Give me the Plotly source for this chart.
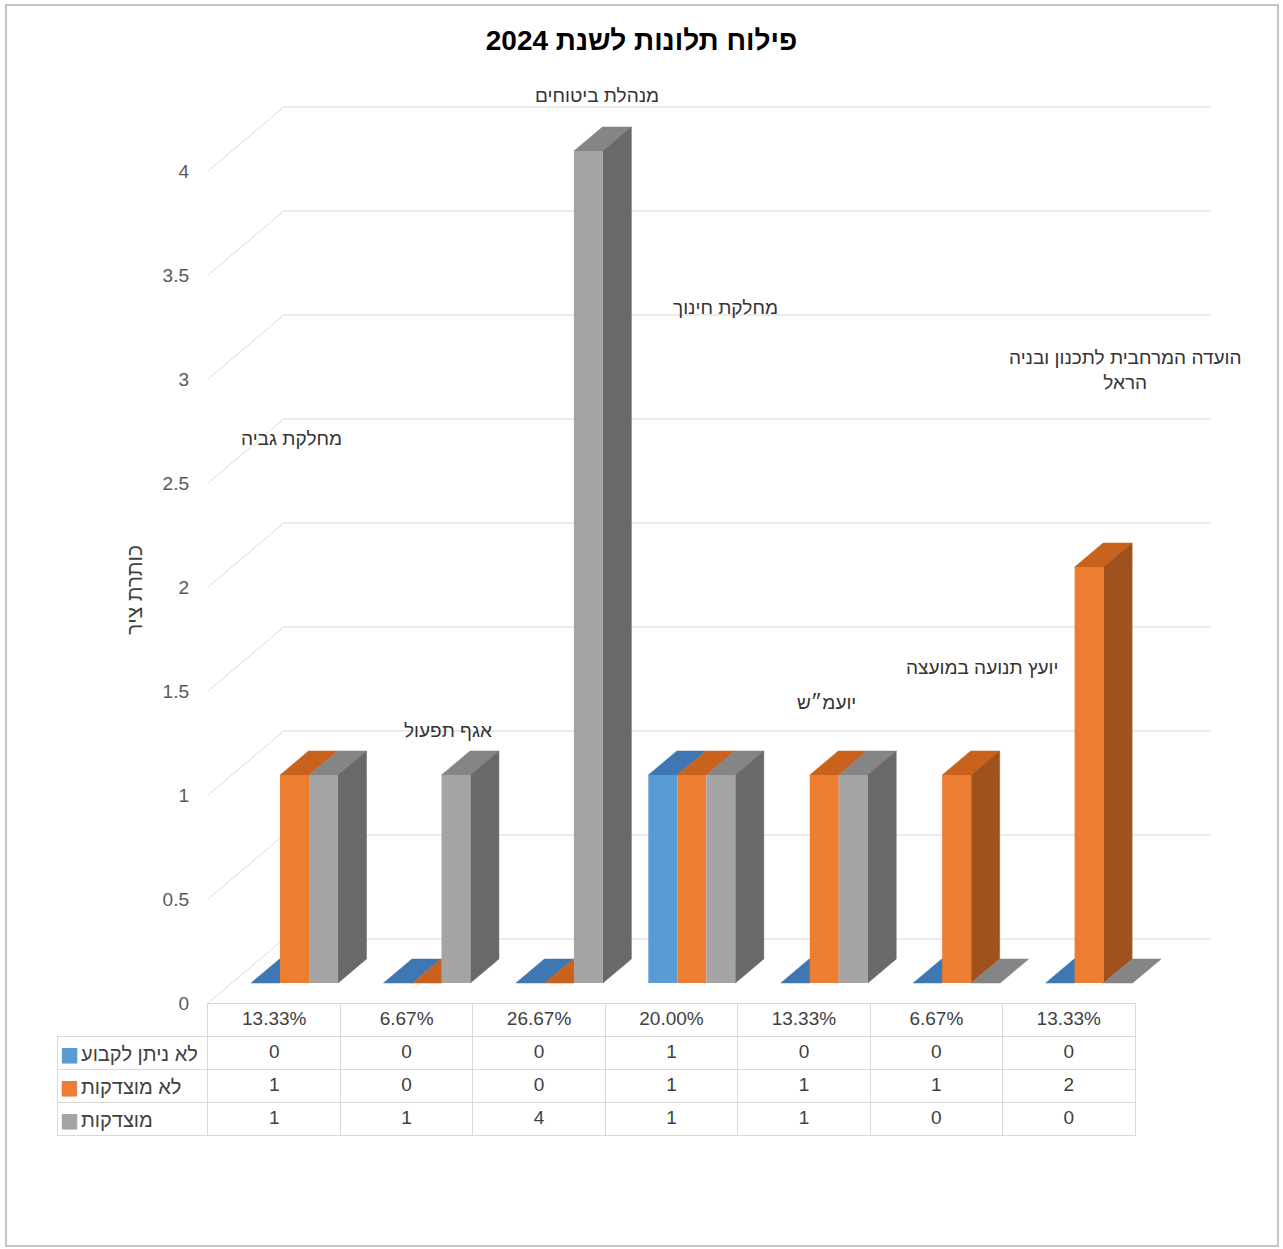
import plotly.graph_objects as go

# ---------------- data ----------------
categories = ["מחלקת גביה", "אגף תפעול", "מנהלת ביטוחים", "מחלקת חינוך",
              "יועמ״ש", "יועץ תנועה במועצה", "הועדה המרחבית לתכנון ובניה<br>הראל"]
share_labels = ["13.33%", "6.67%", "26.67%", "20.00%", "13.33%", "6.67%", "13.33%"]
series_names = ["לא ניתן לקבוע", "לא מוצדקות", "מוצדקות"]
undetermined = [0, 0, 0, 1, 0, 0, 0]
unjustified = [1, 0, 0, 1, 1, 1, 2]
justified = [1, 1, 4, 1, 1, 0, 0]
y_ticks = [0, 0.5, 1, 1.5, 2, 2.5, 3, 3.5, 4]
title_text = "פילוח תלונות לשנת 2024"
axis_title = "כותרת ציר"

# ---------------- layout / style (not data) ----------------
series_values = [undetermined, unjustified, justified]
front_colors = ["#5B9BD5", "#ED7D31", "#A5A5A5"]
top_colors = ["#3E77B2", "#C8621D", "#858585"]
side_colors = ["#2F5F8F", "#A0521C", "#696969"]
FONT = "Liberation Sans, Arial, sans-serif"

# category-name label positions (data units: category axis, value axis)
label_pos = [(0.634, 2.716), (1.812, 1.308), (2.937, 4.361), (3.904, 3.346),
             (4.667, 1.447), (5.845, 1.615), (6.924, 3.043)]

W = 0.219                 # bar width (category units)
START = 0.146             # group start within category cell
WALL_D = (0.574, 0.3077)  # depth of the 3D box
FRONT = (0.179, 0.096)    # offset of bar front faces from the front plane
BAR_D = (0.215, 0.1154)   # depth of a bar

FIG_W, FIG_H = 1283, 1249
X0_PX, PX_PER_CAT = 208, 132.43
Y0_PX, PX_PER_UNIT = 1003, 208
ROW_H = 33
XR = (0, 8)
YR = (0, 4.5)


def px_y(py):
    return (FIG_H - py) / FIG_H


x_dom = [X0_PX / FIG_W, (X0_PX + XR[1] * PX_PER_CAT) / FIG_W]
y_dom = [px_y(Y0_PX), px_y(Y0_PX - YR[1] * PX_PER_UNIT)]

fig = go.Figure()

# ---- top and side faces (pseudo 3D) ----
n = len(categories)
for i in range(n):
    for k in range(3):
        h = series_values[k][i]
        x0 = i + START + k * W + FRONT[0]
        x1 = x0 + W
        b = FRONT[1]
        t = b + h
        dx, dy = BAR_D
        fig.add_trace(go.Scatter(
            x=[x0, x1, x1 + dx, x0 + dx, x0], y=[t, t, t + dy, t + dy, t],
            fill="toself", fillcolor=top_colors[k], mode="lines",
            line=dict(color=top_colors[k], width=0.5), hoverinfo="skip",
            showlegend=False))
        hn = series_values[k + 1][i] if k < 2 else 0
        if h > hn:
            lo = b + hn
            fig.add_trace(go.Scatter(
                x=[x1, x1, x1 + dx, x1 + dx, x1], y=[lo, t, t + dy, lo + dy, lo],
                fill="toself", fillcolor=side_colors[k], mode="lines",
                line=dict(color=side_colors[k], width=0.5), hoverinfo="skip",
                showlegend=False))

# ---- front faces as bars (overlay axes, drawn on top) ----
for k in range(3):
    xs = [i + START + k * W + FRONT[0] + W / 2 for i in range(n)]
    fig.add_trace(go.Bar(
        x=xs, y=series_values[k], base=FRONT[1], width=W,
        marker=dict(color=front_colors[k], line=dict(width=0)),
        name=series_names[k], xaxis="x2", yaxis="y2", showlegend=False,
        hovertext=[c.replace("<br>", " ") for c in categories]))

# ---- walls / gridlines ----
shapes = []
for v in y_ticks:
    shapes.append(dict(type="line", xref="x", yref="y", layer="below",
                       x0=WALL_D[0], y0=v + WALL_D[1], x1=n + WALL_D[0], y1=v + WALL_D[1],
                       line=dict(color="#D9D9D9", width=1)))
    shapes.append(dict(type="line", xref="x", yref="y", layer="below",
                       x0=0, y0=v, x1=WALL_D[0], y1=v + WALL_D[1],
                       line=dict(color="#D9D9D9", width=1)))
# outer frame
shapes.append(dict(type="rect", xref="paper", yref="paper", x0=6 / FIG_W, y0=px_y(1246),
                   x1=1278 / FIG_W, y1=px_y(5), line=dict(color="#C4C4C4", width=2)))

# ---- category labels ----
annotations = []
for (lx, ly), name in zip(label_pos, categories):
    annotations.append(dict(x=lx, y=ly, xref="x", yref="y", text=name,
                            showarrow=False, font=dict(size=19, color="#333333", family=FONT)))
annotations.append(dict(x=134 / FIG_W, y=px_y(590), xref="paper", yref="paper",
                        xanchor="center", yanchor="middle",
                        text=axis_title, textangle=-90, showarrow=False,
                        font=dict(size=21, color="#404040", family=FONT)))

# ---- data table ----
table_cols = [[""] * 3] + [[series_values[k][i] for k in range(3)] for i in range(n)]
fig.add_trace(go.Table(
    domain=dict(x=[57 / FIG_W, (X0_PX + n * PX_PER_CAT) / FIG_W],
                y=[px_y(Y0_PX + 4 * ROW_H + 1), px_y(Y0_PX)]),
    columnwidth=[151] + [PX_PER_CAT] * n,
    header=dict(values=[""] + share_labels, height=ROW_H,
                line=dict(color=["rgba(0,0,0,0)"] + ["#D9D9D9"] * n, width=1),
                fill=dict(color=["rgba(0,0,0,0)"] + ["white"] * n), align="center",
                font=dict(size=19, color="#404040", family=FONT)),
    cells=dict(values=table_cols, height=ROW_H,
               line=dict(color="#D9D9D9", width=1), fill=dict(color="white"),
               align="center",
               font=dict(size=19, color="#404040", family=FONT))))

# legend keys and series names in the first table column
for r, (c, s) in enumerate(zip(front_colors, series_names)):
    yc = px_y(Y0_PX + (r + 1.5) * ROW_H + 1)
    annotations.append(dict(x=69 / FIG_W, y=yc, xref="paper", yref="paper", text="■",
                            showarrow=False, xanchor="center", yanchor="middle",
                            font=dict(size=20, color=c, family="DejaVu Sans")))
    annotations.append(dict(x=79 / FIG_W, y=yc, xref="paper", yref="paper", text=s,
                            showarrow=False, xanchor="left", yanchor="middle",
                            font=dict(size=20, color="#404040", family=FONT)))

fig.update_layout(
    width=FIG_W, height=FIG_H, autosize=False,
    margin=dict(l=0, r=0, t=0, b=0, pad=0, autoexpand=False),
    paper_bgcolor="white", plot_bgcolor="white",
    barmode="overlay", showlegend=False,
    title=dict(text=f"<b>{title_text}</b>", x=0.5, xanchor="center",
               y=px_y(40), yanchor="middle",
               font=dict(size=28, color="#000000", family=FONT)),
    xaxis=dict(domain=x_dom, range=list(XR), visible=False, fixedrange=True,
               automargin=False),
    yaxis=dict(domain=y_dom, range=list(YR), tickvals=y_ticks,
               ticktext=[f"{v:g}" for v in y_ticks], showgrid=False, zeroline=False,
               showline=False, ticks="", ticklabelstandoff=18, automargin=False,
               tickfont=dict(size=19, color="#595959", family=FONT),
               fixedrange=True),
    xaxis2=dict(overlaying="x", range=list(XR), visible=False, fixedrange=True,
                automargin=False),
    yaxis2=dict(overlaying="y", range=list(YR), visible=False, fixedrange=True,
                automargin=False),
    shapes=shapes, annotations=annotations,
)

fig.write_html("out.html")
